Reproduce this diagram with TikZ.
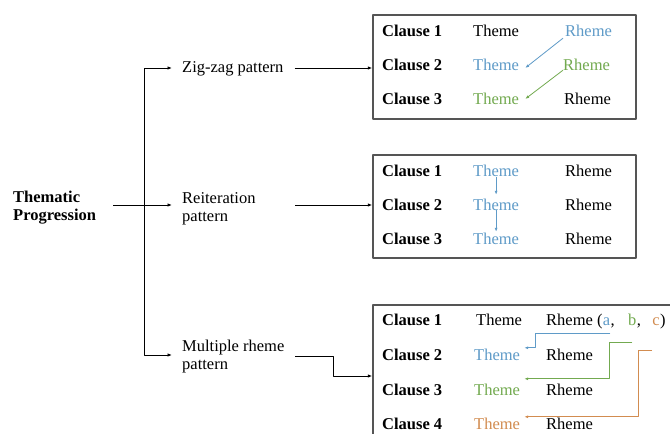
\documentclass[tikz,border=0pt]{standalone}
\usepackage{fontspec}
\setmainfont{Liberation Serif}
\usetikzlibrary{arrows.meta,positioning}
\definecolor{tpblue}{RGB}{95,155,200}
\definecolor{tpgreen}{RGB}{115,170,80}
\definecolor{tporange}{RGB}{210,140,80}
\definecolor{framegray}{RGB}{85,85,85}
\tikzset{
	lbl/.style={anchor=base west, inner sep=0pt, text height=12pt, text depth=4pt},
	clause/.style={lbl, font=\fontsize{16.5}{18}\selectfont\bfseries},
	twoline/.style={anchor=west, inner sep=0pt, align=left},
	frame/.style={draw=framegray, line width=1.4pt, inner sep=0pt},
	conn/.style={line width=0.9pt},
	arr/.style={conn, -{Latex[length=4.5pt,width=3.5pt]}},
	carr/.style={line width=0.8pt, -{Latex[length=4pt,width=3pt]}},
}
\begin{document}
\begin{tikzpicture}[x=1pt,y=-1pt,font=\fontsize{16.5}{18}\selectfont,line join=round]
		\useasboundingbox (0,0) rectangle (670,434);
		\clip (0,0) rectangle (670,434);
		\fill[white] (0,0) rectangle (670,434);
		
		% left part
		\node[twoline, font=\fontsize{16.5}{18}\selectfont\bfseries] (tp) at (13,208) {Thematic\\Progression};
		\node[lbl] (zzp) at (182,72) {Zig-zag pattern};
		\node[twoline] (rep) at (182,209) {Reiteration\\pattern};
		\node[twoline] (mrp) at (182,357) {Multiple rheme\\pattern};
		
		\coordinate (split) at (144,205);
		\draw[conn] ([xshift=17pt,yshift=3pt]tp.east) -- (split);
		\draw[arr] (split) |- ([xshift=-10pt]zzp.west);
		\draw[arr] (split) -- ([xshift=-10pt,yshift=4pt]rep.west);
		\draw[arr] (split) |- ([xshift=-10pt,yshift=2pt]mrp.west);
		
		% boxes
		\node[frame, minimum width=263pt, minimum height=104pt] (b1) at (504.5,67) {};
		\node[frame, minimum width=263pt, minimum height=103pt] (b2) at (504.5,206.5) {};
		\node[frame, minimum width=330pt, minimum height=170pt] (b3) at (538,390) {};
		
		\coordinate (reout) at (295,205);
		\coordinate (mrout) at (295,356);
		\draw[arr] ([xshift=11pt]zzp.east) -- (zzp.east -| b1.west);
		\draw[arr] (reout) -- (reout -| b2.west);
		\draw[arr] (mrout) -- ++(38,0) |- ([yshift=14pt]b3.west);
		
		% zig-zag
		\foreach \i/\y in {1/36,2/70,3/104}
		{
			\node[clause] (zc\i) at (382,\y) {Clause \i};
		}
		\node[lbl] (zt1) at (473,36) {Theme};
		\node[lbl, text=tpblue] (zr1) at (565,36) {Rheme};
		\node[lbl, text=tpblue] (zt2) at (473,70) {Theme};
		\node[lbl, text=tpgreen] (zr2) at (563,70) {Rheme};
		\node[lbl, text=tpgreen] (zt3) at (473,104) {Theme};
		\node[lbl] (zr3) at (564,104) {Rheme};
		\draw[carr, tpblue] ([xshift=-2pt,yshift=2pt]zr1.south west) -- ([xshift=6pt,yshift=-2pt]zt2.east);
		\draw[carr, tpgreen] ([xshift=0pt,yshift=4pt]zr2.south west) -- ([xshift=6pt,yshift=1pt]zt3.east);
		
		% reiteration
		\foreach \i/\y in {1/176,2/210,3/244}
		{
			\node[clause] (rc\i) at (382,\y) {Clause \i};
			\node[lbl, text=tpblue] (rt\i) at (473,\y) {Theme};
			\node[lbl] (rr\i) at (565,\y) {Rheme};
		}
		\draw[carr, tpblue] ([yshift=3pt]rt1.south) -- ([yshift=3pt]rt2.north);
		\draw[carr, tpblue] ([yshift=4pt]rt2.south) -- (rt3.north);
		
		% multiple rheme
		\foreach \i/\y in {1/325,2/360,3/395,4/429}
		{
			\node[clause] (mc\i) at (382,\y) {Clause \i};
		}
		\node[lbl] (mt1) at (476,325) {Theme};
		\node[lbl] (mr1) at (546,325) {Rheme (};
		\node[lbl, text=tpblue, right=0pt of mr1] (ma) {a};
		\node[lbl, right=0pt of ma] (mk1) {,};
		\node[lbl, text=tpgreen, right=13pt of mk1] (mb) {b};
		\node[lbl, right=0pt of mb] (mk2) {,};
		\node[lbl, text=tporange, right=11pt of mk2] (mcc) {c};
		\node[lbl, right=0pt of mcc] (mk3) {)};
		\node[lbl, text=tpblue] (mt2) at (474,360) {Theme};
		\node[lbl] (mr2) at (546,360) {Rheme};
		\node[lbl, text=tpgreen] (mt3) at (474,395) {Theme};
		\node[lbl] (mr3) at (546,395) {Rheme};
		\node[lbl, text=tporange] (mt4) at (474,429) {Theme};
		\node[lbl] (mr4) at (546,429) {Rheme};
		\draw[carr, tpblue] ([yshift=-4pt]ma.south east) -- ++(-75,0) |- ([xshift=4pt]mt2.north east);
		\draw[carr, tpgreen] ([yshift=-13pt]mb.south) -- ++(-23,0) |- ([xshift=4pt,yshift=4pt]mt3.north east);
		\draw[carr, tporange] ([yshift=-21pt]mcc.south west) -- ++(-14,0) |- ([xshift=4pt]mt4.north east);
		
	\end{tikzpicture}
\end{document}
